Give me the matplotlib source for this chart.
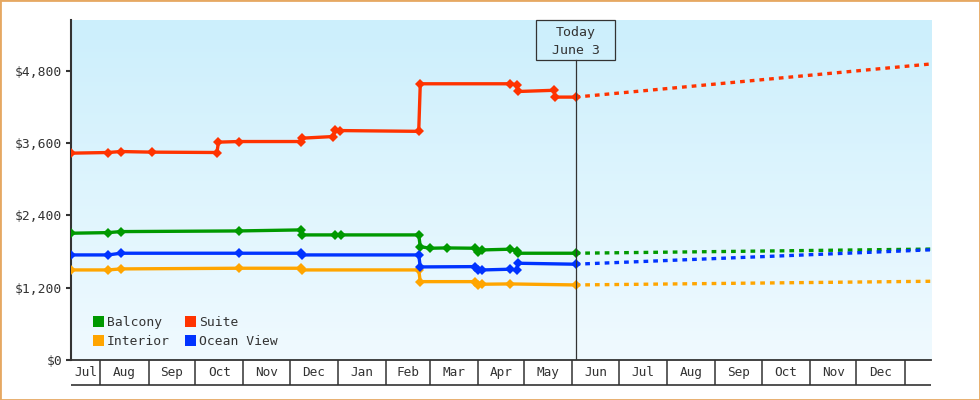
import numpy as np
import matplotlib
matplotlib.use('Agg')
import matplotlib.pyplot as plt
import matplotlib.dates as mdates
from matplotlib.patches import Rectangle, Patch
from matplotlib.ticker import FuncFormatter, FixedLocator

# price history (date, price) per cabin type
suite_dates = ['2018-07-13', '2018-08-06', '2018-08-14', '2018-09-03', '2018-10-15',
               '2018-10-16', '2018-10-29', '2018-12-08', '2018-12-09', '2018-12-29',
               '2018-12-30', '2019-01-02', '2019-02-22', '2019-02-23', '2019-04-22',
               '2019-04-26', '2019-04-27', '2019-05-20', '2019-05-21', '2019-06-03']
suite_prices = [3431, 3442, 3458, 3448, 3442, 3614, 3624, 3624, 3680, 3707,
                3813, 3806, 3793, 4582, 4582, 4565, 4454, 4474, 4361, 4361]

balcony_dates = ['2018-07-13', '2018-08-06', '2018-08-14', '2018-10-29', '2018-12-08',
                 '2018-12-09', '2018-12-30', '2019-01-03', '2019-02-22', '2019-02-23',
                 '2019-03-01', '2019-03-12', '2019-03-30', '2019-04-01', '2019-04-04',
                 '2019-04-22', '2019-04-26', '2019-04-27', '2019-06-03']
balcony_prices = [2103, 2113, 2130, 2141, 2158, 2075, 2075, 2075, 2075, 1881,
                  1854, 1859, 1854, 1798, 1826, 1838, 1814, 1771, 1771]

ocean_dates = ['2018-07-13', '2018-08-06', '2018-08-14', '2018-10-29', '2018-12-08',
               '2018-12-09', '2019-02-22', '2019-02-23', '2019-03-30', '2019-04-01',
               '2019-04-04', '2019-04-22', '2019-04-26', '2019-04-27', '2019-06-03']
ocean_prices = [1743, 1743, 1771, 1771, 1771, 1743, 1743, 1544, 1549, 1494,
                1494, 1506, 1494, 1605, 1589]

interior_dates = ['2018-07-13', '2018-08-06', '2018-08-14', '2018-10-29', '2018-12-08',
                  '2018-12-09', '2019-02-22', '2019-02-23', '2019-03-30', '2019-04-01',
                  '2019-04-04', '2019-04-22', '2019-06-03']
interior_prices = [1494, 1494, 1511, 1522, 1522, 1494, 1494, 1300, 1300, 1245,
                   1257, 1262, 1245]

# projections from today to the end of the view
forecast_dates = ['2019-06-03', '2020-01-18']
suite_forecast = [4361, 4911]
balcony_forecast = [1771, 1840]
ocean_forecast = [1589, 1828]
interior_forecast = [1245, 1306]

today = '2019-06-03'
today_label = 'Today\nJune 3'
view_start, view_end = '2018-07-13', '2020-01-18'
month_starts = ['2018-07-01', '2018-08-01', '2018-09-01', '2018-10-01', '2018-11-01',
                '2018-12-01', '2019-01-01', '2019-02-01', '2019-03-01', '2019-04-01',
                '2019-05-01', '2019-06-01', '2019-07-01', '2019-08-01', '2019-09-01',
                '2019-10-01', '2019-11-01', '2019-12-01', '2020-01-01']
month_labels = ['Jul', 'Aug', 'Sep', 'Oct', 'Nov', 'Dec', 'Jan', 'Feb', 'Mar',
                'Apr', 'May', 'Jun', 'Jul', 'Aug', 'Sep', 'Oct', 'Nov', 'Dec']
y_ticks = [0, 1200, 2400, 3600, 4800]
y_max = 5640

series = [
    ('Balcony', balcony_dates, balcony_prices, balcony_forecast, '#009900'),
    ('Interior', interior_dates, interior_prices, interior_forecast, '#FFA500'),
    ('Suite', suite_dates, suite_prices, suite_forecast, '#FF3300'),
    ('Ocean View', ocean_dates, ocean_prices, ocean_forecast, '#0033FF'),
]

DARK = '#333333'
plt.rcParams['font.family'] = ['DejaVu Sans Mono']
plt.rcParams['lines.scale_dashes'] = False

def d(s):
    return mdates.date2num(np.datetime64(s))

fig = plt.figure(figsize=(9.8, 4.0), dpi=100)
ax = fig.add_axes([71 / 980, 40 / 400, 860 / 980, 340 / 400])

x0, x1 = d(view_start), d(view_end)
ax.set_xlim(x0, x1)
ax.set_ylim(0, y_max)

# gradient background
top = np.array([204, 239, 252]) / 255
bot = np.array([240, 250, 255]) / 255
t = np.linspace(0, 1, 256)[:, None]
grad = (top * (1 - t) + bot * t)[:, None, :]
ax.imshow(grad, extent=[0, 1, 0, 1], transform=ax.transAxes, aspect='auto', zorder=0)

handles = []
for name, dates, prices, fc, color in series:
    xs = [d(s) for s in dates]
    ax.plot(xs, prices, color=color, lw=2.4, marker='D', ms=5.3, mew=0,
            solid_joinstyle='miter', zorder=3)
    ax.plot([d(s) for s in forecast_dates], fc, color=color, lw=2.4,
            dashes=[3.4, 3.6], zorder=3)
    handles.append(Patch(facecolor=color, edgecolor='none', label=name))

# today marker
tx = d(today)
box_top = 1.0
box_bot = (360 - 60) / 340
ax.axvline(tx, ymin=0, ymax=box_bot, color=DARK, lw=0.9, zorder=4)
half_w = 39.6 / 860 * (x1 - x0)
ax.add_patch(Rectangle((tx - half_w, box_bot), 2 * half_w, box_top - box_bot,
                       transform=ax.get_xaxis_transform(), fill=False,
                       edgecolor=DARK, lw=0.9, zorder=5, clip_on=False))
lines = today_label.split('\n')
ax.text(tx, (360 - 32.5) / 340, lines[0], transform=ax.get_xaxis_transform(),
        ha='center', va='center', fontsize=9.5, color=DARK, zorder=6)
ax.text(tx, (360 - 50) / 340, lines[1], transform=ax.get_xaxis_transform(),
        ha='center', va='center', fontsize=9.5, color=DARK, zorder=6)

# y axis
ax.yaxis.set_major_locator(FixedLocator(y_ticks))
ax.yaxis.set_major_formatter(FuncFormatter(lambda v, p: '${:,.0f}'.format(v)))
ax.tick_params(axis='y', length=3.8, width=1.5, color=DARK, labelcolor=DARK,
               labelsize=9.4, pad=2.5)

# x axis: month cells
ax.xaxis.set_major_locator(FixedLocator([d(s) for s in month_starts]))
ax.xaxis.set_major_formatter(plt.NullFormatter())
bounds = [min(max(d(s), x0), x1) for s in month_starts]
centers = [(a + b) / 2 for a, b in zip(bounds[:-1], bounds[1:])]
ax.xaxis.set_minor_locator(FixedLocator(centers))
ax.xaxis.set_minor_formatter(plt.FixedFormatter(month_labels))
ax.tick_params(axis='x', which='major', length=18, width=1.1, color=DARK, direction='out')
ax.tick_params(axis='x', which='minor', length=0, labelsize=9.2, labelcolor=DARK, pad=4.5)
ax.plot([0, 1], [-25 / 340] * 2, transform=ax.transAxes, color=DARK, lw=1.2,
        clip_on=False, solid_capstyle='butt')

for side in ['top', 'right']:
    ax.spines[side].set_visible(False)
ax.spines['left'].set_color(DARK)
ax.spines['left'].set_linewidth(1.5)
ax.spines['bottom'].set_color(DARK)
ax.spines['bottom'].set_linewidth(1.3)

leg = ax.legend(handles=handles, ncol=2, loc='lower left',
                bbox_to_anchor=((93 - 71) / 860, 0.035), frameon=False,
                fontsize=9.4, handlelength=0.84, handleheight=0.92,
                handletextpad=0.25, columnspacing=1.15, labelspacing=0.45,
                borderpad=0, borderaxespad=0)
for txt in leg.get_texts():
    txt.set_color(DARK)

# outer border
fig.patches.append(Rectangle((0, 0), 1, 1, transform=fig.transFigure, fill=False,
                             edgecolor='#E6A862', lw=2))

fig.savefig('out.png', dpi=100)
